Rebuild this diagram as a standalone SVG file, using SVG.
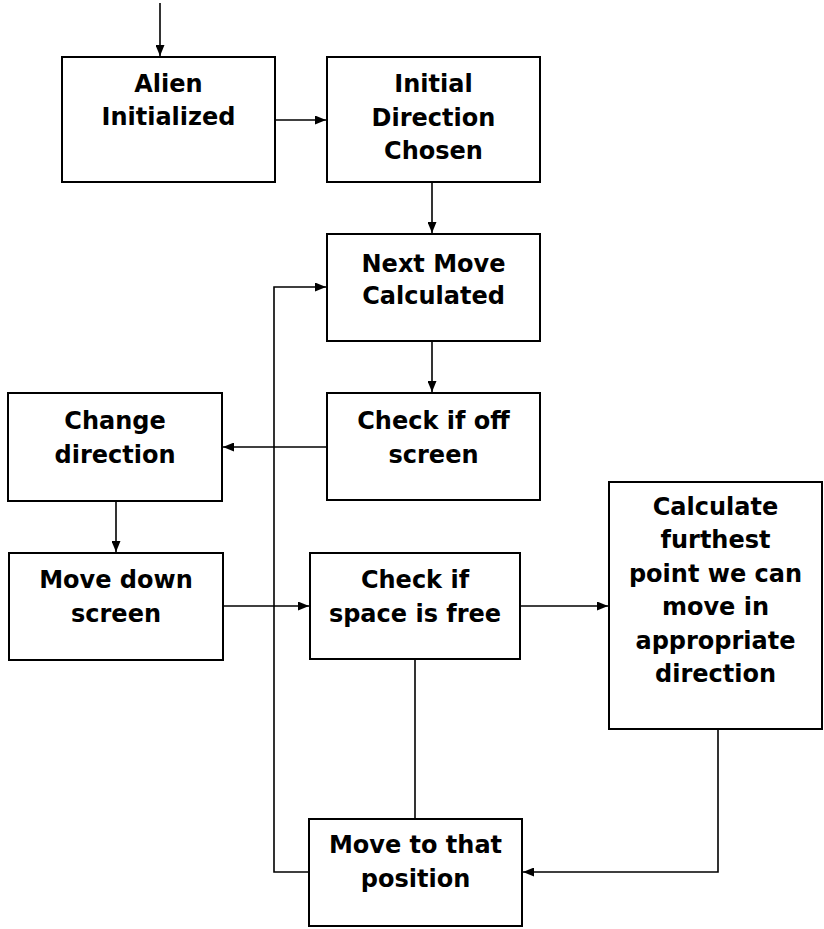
<svg xmlns="http://www.w3.org/2000/svg" width="824" height="929" viewBox="0 0 824 929">
<style>
.box{fill:#fff;stroke:#000;stroke-width:2}
.t{font-family:"DejaVu Sans","Verdana",sans-serif;font-weight:bold;font-size:24px;fill:#000;text-anchor:middle}
.c{fill:none;stroke:#000;stroke-width:1.6}
</style>
<defs>
<marker id="ah" markerUnits="userSpaceOnUse" markerWidth="11" markerHeight="9" refX="11" refY="4.5" orient="auto">
<path d="M0,0 L11,4.5 L0,9 z" fill="#000"/>
</marker>
</defs>
<rect width="824" height="929" fill="#fff"/>
<g id="connectors">
<path class="c" d="M160,3 V56" marker-end="url(#ah)"/>
<path class="c" d="M275,120 H326" marker-end="url(#ah)"/>
<path class="c" d="M432,182 V233" marker-end="url(#ah)"/>
<path class="c" d="M309,872 H274 V287 H326" marker-end="url(#ah)"/>
<path class="c" d="M432,341 V392" marker-end="url(#ah)"/>
<path class="c" d="M327,447 H223" marker-end="url(#ah)"/>
<path class="c" d="M116,501 V552" marker-end="url(#ah)"/>
<path class="c" d="M223,606 H309" marker-end="url(#ah)"/>
<path class="c" d="M520,606 H608" marker-end="url(#ah)"/>
<path class="c" d="M415,659 V819"/>
<path class="c" d="M718,729 V872 H523" marker-end="url(#ah)"/>
</g>
<g id="alien-initialized">
<rect class="box" x="62" y="57" width="213" height="125"/>
<text class="t" x="168.5" y="92">Alien</text>
<text class="t" x="168.5" y="125">Initialized</text>
</g>
<g id="initial-direction">
<rect class="box" x="327" y="57" width="213" height="125"/>
<text class="t" x="433.5" y="92">Initial</text>
<text class="t" x="433.5" y="126">Direction</text>
<text class="t" x="433.5" y="159">Chosen</text>
</g>
<g id="next-move">
<rect class="box" x="327" y="234" width="213" height="107"/>
<text class="t" x="433.5" y="272">Next Move</text>
<text class="t" x="433.5" y="304">Calculated</text>
</g>
<g id="check-off-screen">
<rect class="box" x="327" y="393" width="213" height="107"/>
<text class="t" x="433.5" y="429">Check if off</text>
<text class="t" x="433.5" y="463">screen</text>
</g>
<g id="change-direction">
<rect class="box" x="8" y="393" width="214" height="108"/>
<text class="t" x="115" y="429">Change</text>
<text class="t" x="115" y="463">direction</text>
</g>
<g id="move-down">
<rect class="box" x="9" y="553" width="214" height="107"/>
<text class="t" x="116" y="588">Move down</text>
<text class="t" x="116" y="622">screen</text>
</g>
<g id="check-space">
<rect class="box" x="310" y="553" width="210" height="106"/>
<text class="t" x="415" y="588">Check if</text>
<text class="t" x="415" y="622">space is free</text>
</g>
<g id="calculate-furthest">
<rect class="box" x="609" y="482" width="213" height="247"/>
<text class="t" x="715.5" y="515">Calculate</text>
<text class="t" x="715.5" y="548">furthest</text>
<text class="t" x="715.5" y="582">point we can</text>
<text class="t" x="715.5" y="615">move in</text>
<text class="t" x="715.5" y="649">appropriate</text>
<text class="t" x="715.5" y="682">direction</text>
</g>
<g id="move-to-position">
<rect class="box" x="309" y="819" width="213" height="107"/>
<text class="t" x="415.5" y="853">Move to that</text>
<text class="t" x="415.5" y="887">position</text>
</g>
</svg>
